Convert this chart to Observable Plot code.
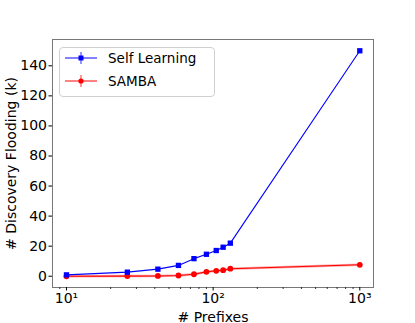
<!DOCTYPE html>
<html>
<head>
<meta charset="utf-8">
<script src="https://cdn.jsdelivr.net/npm/d3@7"></script>
<script src="https://cdn.jsdelivr.net/npm/@observablehq/plot@0.6"></script>
<style>
  html, body { margin: 0; padding: 0; background: white; }
  #wrap { position: relative; width: 415px; height: 323px; font-family: "DejaVu Sans", sans-serif; }
  #legend { position: absolute; left: 59px; top: 47px; width: 156px; height: 50px; box-sizing: border-box;
            border: 1px solid #d0d0d0; border-radius: 4px; background: rgba(255,255,255,0.8); }
</style>
</head>
<body>
<div id="wrap"></div>
<script>
// Data
const prefixes = [10, 26, 42, 58, 74, 90, 105, 117, 131, 1000];
const selfLearning = [0.9, 2.7, 4.7, 7.2, 11.7, 14.6, 17.1, 19.3, 22.0, 150.0];
const samba = [0.0, 0.1, 0.2, 0.5, 1.3, 2.9, 3.6, 4.0, 5.0, 7.6];
const seriesNames = ["Self Learning", "SAMBA"];
const seriesColors = ["#0000ff", "#ff0000"];
const xMajorTicks = [10, 100, 1000];
const xMajorLabels = ["10¹", "10²", "10³"];
const yTicks = [0, 20, 40, 60, 80, 100, 120, 140];
const xLabel = "# Prefixes";
const yLabel = "# Discovery Flooding (k)";

const minorTicks = [];
for (const d of [1, 10, 100, 1000]) for (let m = 2; m <= 9; m++) minorTicks.push(d * m);

const rowsSL = prefixes.map((p, i) => ({x: p, y: selfLearning[i]}));
const rowsSA = prefixes.map((p, i) => ({x: p, y: samba[i]}));

const chart = Plot.plot({
  width: 415,
  height: 323,
  marginLeft: 52,
  marginRight: 42,
  marginTop: 39,
  marginBottom: 36,
  style: {fontFamily: "DejaVu Sans, sans-serif", fontSize: "14px", color: "black", background: "white"},
  x: {type: "log", domain: [8.03, 1240]},
  y: {domain: [-7.5, 157.5]},
  marks: [
    Plot.frame({stroke: "#777", strokeWidth: 1}),
    Plot.axisX(minorTicks.filter(t => t > 8.03 && t < 1240), {tickSize: 2, tickFormat: () => "", label: null, stroke: "#333"}),
    Plot.axisX(xMajorTicks, {tickSize: 3.5, tickPadding: 2, tickFormat: (d) => xMajorLabels[xMajorTicks.indexOf(d)],
      label: xLabel, labelAnchor: "center", labelOffset: 34, labelArrow: false, fontSize: 14}),
    Plot.axisY(yTicks, {tickSize: 3.5, tickPadding: 2, label: yLabel, labelAnchor: "center", labelOffset: 46, labelArrow: false, fontSize: 14}),
    Plot.line(rowsSA, {x: "x", y: "y", stroke: seriesColors[1], strokeOpacity: 0.35, strokeWidth: 2.5}),
    Plot.line(rowsSA, {x: "x", y: "y", stroke: seriesColors[1], strokeWidth: 1.1}),
    Plot.dot(rowsSA, {x: "x", y: "y", fill: seriesColors[1], r: 2.9, symbol: "circle"}),
    Plot.line(rowsSL, {x: "x", y: "y", stroke: seriesColors[0], strokeWidth: 1.1}),
    Plot.dot(rowsSL, {x: "x", y: "y", fill: seriesColors[0], r: 3, symbol: "square"})
  ]
});

const wrap = document.getElementById("wrap");
wrap.appendChild(chart);

// Legend
const legend = document.createElement("div");
legend.id = "legend";
const ns = "http://www.w3.org/2000/svg";
const svg = document.createElementNS(ns, "svg");
svg.setAttribute("width", 156);
svg.setAttribute("height", 50);
svg.style.position = "absolute";
svg.style.left = "-1px";
svg.style.top = "-1px";
seriesNames.forEach((name, i) => {
  const cy = 11 + i * 23;
  const c = seriesColors[i];
  const g = document.createElementNS(ns, "g");
  g.innerHTML =
    `<line x1="6" x2="38" y1="${cy}" y2="${cy}" stroke="${c}" stroke-opacity="0.55" stroke-width="1.8"/>` +
    `<line x1="22" x2="22" y1="${cy - 6}" y2="${cy + 6}" stroke="${c}" stroke-opacity="0.55" stroke-width="1.5"/>` +
    (i === 0
      ? `<rect x="19.5" y="${cy - 2.5}" width="5" height="5" fill="${c}"/>`
      : `<circle cx="22" cy="${cy}" r="2.6" fill="${c}"/>`) +
    `<text x="49" y="${cy + 5}" font-size="13.5" font-family="DejaVu Sans, sans-serif" fill="black">${name}</text>`;
  svg.appendChild(g);
});
legend.appendChild(svg);
wrap.appendChild(legend);
</script>
</body>
</html>
